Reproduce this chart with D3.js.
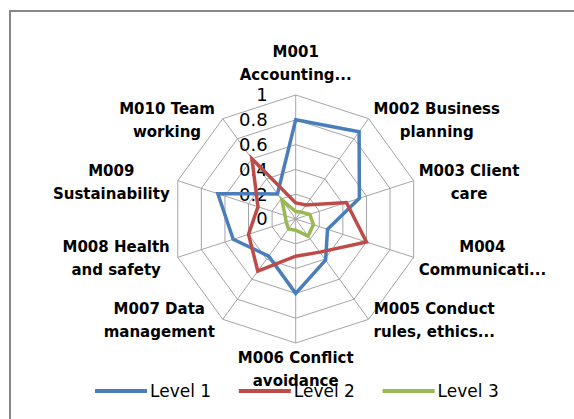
<!DOCTYPE html>
<html>
<head>
<meta charset="utf-8">
<script src="https://cdn.jsdelivr.net/npm/d3@7"></script>
<style>
  body { margin: 0; background: #fff; }
  svg { display: block; }
</style>
</head>
<body>
<div id="chart"></div>
<script>
// axis labels (two lines each, truncated like the original)
const categories = [
    ['M001', 'Accounting...'],
    ['M002 Business', 'planning'],
    ['M003 Client', 'care'],
    ['M004', 'Communicati...'],
    ['M005 Conduct', 'rules, ethics...'],
    ['M006 Conflict', 'avoidance'],
    ['M007 Data', 'management'],
    ['M008 Health', 'and safety'],
    ['M009', 'Sustainability'],
    ['M010 Team', 'working']
];
const seriesNames = ['Level 1', 'Level 2', 'Level 3'];
const level1 = [0.8, 0.87, 0.54, 0.27, 0.41, 0.6, 0.37, 0.53, 0.66, 0.25];
const level2 = [0.13, 0.14, 0.43, 0.6, 0.33, 0.3, 0.52, 0.4, 0.32, 0.6];
const level3 = [0.06, 0.07, 0.12, 0.15, 0.17, 0.09, 0.1, 0.08, 0.09, 0.19];
const tickValues = [0, 0.2, 0.4, 0.6, 0.8, 1];
const tickLabels = ['0', '0.2', '0.4', '0.6', '0.8', '1'];

const width = 574, height = 419;
const cx = 295.7, cy = 219, radius = 124;
const colors = ['#4a7ebb', '#be4b48', '#98b954'];

const svg = d3.select('#chart')
    .append('svg')
    .attr('width', width)
    .attr('height', height);

// chart frame (runs off the right and bottom edge)
svg.append('rect')
    .attr('x', 10)
    .attr('y', 11)
    .attr('width', 620)
    .attr('height', 460)
    .attr('fill', '#fff')
    .attr('stroke', '#878787')
    .attr('stroke-width', 2);

const g = svg.append('g')
    .attr('transform', 'translate(' + cx + ',' + cy + ')');

const n = categories.length;
const rScale = d3.scaleLinear().domain([0, 1]).range([0, radius]);
const angle = d3.scaleLinear().domain([0, n]).range([0, 2 * Math.PI]);

const pt = (i, v) => [rScale(v) * Math.sin(angle(i)), -rScale(v) * Math.cos(angle(i))];

// rings
const ringLine = d3.lineRadial()
    .angle((d, i) => angle(i))
    .radius(d => rScale(d))
    .curve(d3.curveLinearClosed);

g.selectAll('.ring')
    .data(tickValues.filter(t => t > 0))
    .enter()
    .append('path')
    .attr('class', 'ring')
    .attr('d', t => ringLine(d3.range(n).map(() => t)))
    .attr('fill', 'none')
    .attr('stroke', '#a5a5a5')
    .attr('stroke-width', 1);

// spokes
g.selectAll('.spoke')
    .data(d3.range(n))
    .enter()
    .append('line')
    .attr('class', 'spoke')
    .attr('x1', 0).attr('y1', 0)
    .attr('x2', i => pt(i, 1)[0])
    .attr('y2', i => pt(i, 1)[1])
    .attr('stroke', '#a5a5a5')
    .attr('stroke-width', 1);

// value ticks along the first axis
g.selectAll('.tick-label')
    .data(tickValues)
    .enter()
    .append('text')
    .attr('class', 'tick-label')
    .attr('x', -28)
    .attr('y', t => -rScale(t))
    .attr('dy', '0.36em')
    .attr('text-anchor', 'end')
    .style('font-family', 'DejaVu Sans')
    .style('font-size', '18px')
    .attr('fill', '#000')
    .text((t, i) => tickLabels[i]);

// series
const series = [level1, level2, level3];
g.selectAll('.series')
    .data(series)
    .enter()
    .append('path')
    .attr('class', 'series')
    .attr('d', d => ringLine(d))
    .attr('fill', 'none')
    .attr('stroke', (d, i) => colors[i])
    .attr('stroke-width', 3.5)
    .attr('stroke-linejoin', 'miter');

// category labels
const lineH = 23;
categories.forEach((lines, i) => {
    const [vx, vy] = pt(i, 1);
    const s = Math.sin(angle(i));
    const label = g.append('text')
        .style('font-family', 'DejaVu Sans')
        .style('font-size', '15px')
        .style('font-weight', 'bold')
        .attr('fill', '#000')
        .attr('text-anchor', 'middle');
    lines.forEach((t, k) => {
        label.append('tspan')
            .attr('x', 0)
            .attr('y', (k - (lines.length - 1) / 2) * lineH)
            .attr('dy', '0.36em')
            .text(t);
    });
    const bb = label.node().getBBox();
    let x = vx, y = vy + 1;
    if (Math.abs(s) < 0.01) {
        y = vy < 0 ? vy - 32 : vy + 26;
    } else if (s > 0) {
        x = vx + 5 + bb.width / 2;
    } else {
        x = vx - 8 - bb.width / 2;
    }
    label.attr('transform', 'translate(' + x + ',' + y + ')');
});

// legend
const legend = svg.append('g')
    .attr('transform', 'translate(95,391)');
const item = legend.selectAll('.legend-item')
    .data(seriesNames)
    .enter()
    .append('g')
    .attr('class', 'legend-item')
    .attr('transform', (d, i) => 'translate(' + (i * 143.8) + ',0)');
item.append('line')
    .attr('x1', 0).attr('x2', 52)
    .attr('y1', 0).attr('y2', 0)
    .attr('stroke', (d, i) => colors[i])
    .attr('stroke-width', 4);
item.append('text')
    .attr('x', 55)
    .attr('y', 0)
    .attr('dy', '0.36em')
    .style('font-family', 'DejaVu Sans')
    .style('font-size', '17px')
    .attr('fill', '#000')
    .text(d => d);
</script>
</body>
</html>
